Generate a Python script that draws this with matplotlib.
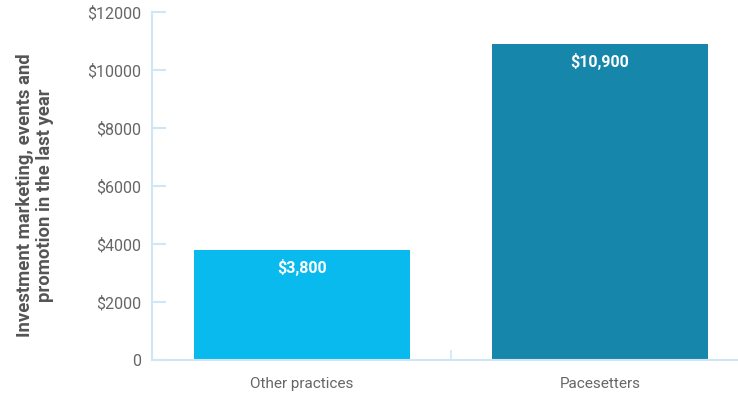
import matplotlib.pyplot as plt
from matplotlib.ticker import FixedLocator

plt.rcParams['font.family'] = ['Roboto', 'DejaVu Sans']

categories = ["Other practices", "Pacesetters"]
values = [3800, 10900]
value_labels = ["$3,800", "$10,900"]
bar_colors = ["#08BAEE", "#1786AB"]
yticks = [0, 2000, 4000, 6000, 8000, 10000, 12000]
ytick_labels = ["0", "$2000", "$4000", "$6000", "$8000", "$10000", "$12000"]

axis_color = "#CFE6F5"
text_color = "#666666"

fig = plt.figure(figsize=(7.38, 3.93), dpi=100)
ax = fig.add_axes([152 / 738, 33 / 393, 586 / 738, 348 / 393])

x = range(len(categories))
bars = ax.bar(x, values, width=0.725, color=bar_colors)

for bar, lab in zip(bars, value_labels):
    ax.annotate(lab, (bar.get_x() + bar.get_width() / 2, bar.get_height()),
                xytext=(0, -12.5), textcoords="offset points",
                ha="center", va="center", color="white",
                fontsize=11.5, fontweight="bold")

ax.set_xlim(-0.503, 1.463)
ax.set_ylim(0, 12000)
ax.set_yticks(yticks)
ax.set_yticklabels(ytick_labels)
ax.set_xticks(list(x))
ax.set_xticklabels(categories)
ax.xaxis.set_minor_locator(FixedLocator([0.5]))

for side in ["top", "right"]:
    ax.spines[side].set_visible(False)
for side in ["left", "bottom"]:
    ax.spines[side].set_color(axis_color)
    ax.spines[side].set_linewidth(1.5)

ax.tick_params(axis="y", direction="in", length=10, width=1.5,
               color=axis_color, labelcolor=text_color, labelsize=11.5, pad=8)
ax.tick_params(axis="x", which="major", length=0, labelcolor=text_color,
               labelsize=11, pad=12)
ax.tick_params(axis="x", which="minor", direction="in", length=7, width=1.2,
               color=axis_color)

fig.text(35 / 738, 1 - 195 / 393,
         "Investment marketing, events and\npromotion in the last year",
         rotation=90, ha="center", va="center", fontsize=13.3,
         fontweight="bold", color="#555555", linespacing=1.1)

fig.savefig("out.png", dpi=100)
